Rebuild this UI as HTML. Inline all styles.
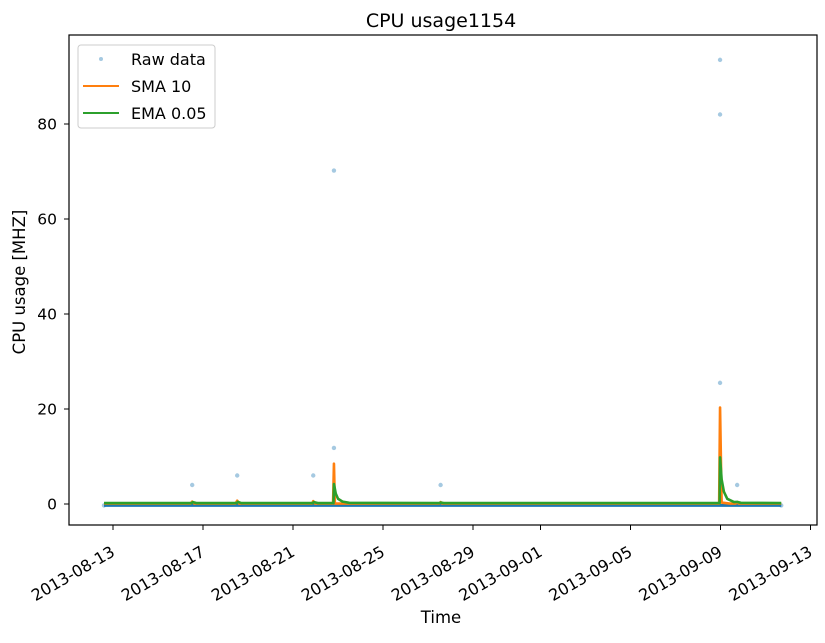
<!DOCTYPE html>
<html><head><meta charset="utf-8"><style>
body{margin:0;background:#fff;}
svg text{font-family:"DejaVu Sans","Liberation Sans",sans-serif;fill:#000;}
</style></head><body>
<svg id="chart" width="825" height="638" xmlns="http://www.w3.org/2000/svg">
<rect width="825" height="638" fill="#fff"/>
<text x="441" y="27" font-size="19" text-anchor="middle">CPU usage1154</text>
<g id="plot"></g>
<rect x="69" y="35" width="748" height="490" fill="none" stroke="#000" stroke-width="1.2"/>
<g id="axes"></g>
<text x="441" y="623" font-size="16.5" text-anchor="middle">Time</text>
<text transform="translate(25,282) rotate(-90)" font-size="16.5" text-anchor="middle">CPU usage [MHZ]</text>
<g>
<rect x="78" y="45" width="137" height="83" rx="3" fill="#fff" stroke="#ccc"/>
<circle cx="101" cy="59" r="2" fill="#1f77b4" opacity="0.4"/>
<text x="131" y="65" font-size="16">Raw data</text>
<line x1="83" y1="86" x2="119" y2="86" stroke="#ff7f0e" stroke-width="2"/>
<text x="131" y="92" font-size="16">SMA 10</text>
<line x1="83" y1="113" x2="119" y2="113" stroke="#2ca02c" stroke-width="2"/>
<text x="131" y="119" font-size="16">EMA 0.05</text>
</g>
</svg>
<script>
// x in days since 2013-08-13
const xTickLabels=["2013-08-13","2013-08-17","2013-08-21","2013-08-25","2013-08-29","2013-09-01","2013-09-05","2013-09-09","2013-09-13"];
const xTickDays=[0,4,8,12,16,19,23,27,31];
const yTicks=[0,20,40,60,80];
const rawDays=[-0.4,3.52,5.52,8.9,9.82,9.82,14.56,26.98,26.98,26.98,27.74,29.7];
const rawVals=[-0.3,4,6,6,70.2,11.8,4,93.5,82,25.5,4,-0.3];
const smaDays=[-0.4,3.45,3.52,3.6,5.45,5.52,5.6,8.85,8.9,8.97,9.78,9.82,9.86,10.2,10.3,14.5,14.56,14.62,26.94,26.98,27.05,27.4,27.5,27.68,27.74,27.8,29.7];
const smaVals=[0.1,0.1,0.5,0.1,0.1,0.7,0.1,0.1,0.6,0.1,0.1,8.5,0.1,0.1,0.1,0.1,0.4,0.1,0.1,20.3,0.3,0.1,0.1,0.1,0.4,0.1,0.1];
const emaDays=[-0.4,3.5,3.55,3.7,5.5,5.55,5.7,8.88,8.93,9.1,9.8,9.82,9.9,10,10.2,10.5,14.5,14.56,14.7,26.96,26.98,27.05,27.15,27.3,27.6,27.74,27.9,29.7];
const emaVals=[0.2,0.2,0.4,0.2,0.2,0.45,0.2,0.2,0.4,0.2,0.2,4.2,2.2,1.1,0.5,0.25,0.2,0.3,0.2,0.2,9.8,5.2,2.6,1.1,0.4,0.45,0.25,0.2];
const xS=d=>113+d*22.5;
const yS=v=>504-v*4.75;
const NS="http://www.w3.org/2000/svg";
const plot=document.getElementById('plot'), axes=document.getElementById('axes');
function mk(t,a,p){const e=document.createElementNS(NS,t);for(const k in a)e.setAttribute(k,a[k]);p.appendChild(e);return e;}
const base=mk('line',{x1:xS(rawDays[0]),y1:yS(rawVals[0]),x2:xS(rawDays[rawDays.length-1]),y2:yS(rawVals[rawVals.length-1]),stroke:'#1f77b4','stroke-width':3},plot);


rawDays.forEach((d,i)=>{const c=mk('circle',{cx:xS(d),cy:yS(rawVals[i]),r:2.2,fill:'#1f77b4',opacity:0.4},plot);

});
function line(ds,vs,col){return mk('polyline',{points:ds.map((d,i)=>xS(d)+','+yS(vs[i])).join(' '),fill:'none',stroke:col,'stroke-width':2.6,'stroke-linejoin':'round'},plot);}
const s=line(smaDays,smaVals,'#ff7f0e');


const e=line(emaDays,emaVals,'#2ca02c');


xTickDays.forEach((d,i)=>{const x=xS(d);
const t=mk('line',{x1:x,y1:525,x2:x,y2:530,stroke:'#000'},axes);


const lx=x+3, ly=555;
const l=mk('text',{x:lx,y:ly,'font-size':16,'text-anchor':'end',transform:`rotate(-30 ${lx} ${ly})`},axes);
l.textContent=xTickLabels[i];

});
yTicks.forEach(v=>{const y=yS(v);
const t=mk('line',{x1:64,y1:y,x2:69,y2:y,stroke:'#000'},axes);


const l=mk('text',{x:57,y:y+5.5,'font-size':15.5,'text-anchor':'end'},axes);
l.textContent=v;

});
</script>
</body></html>
